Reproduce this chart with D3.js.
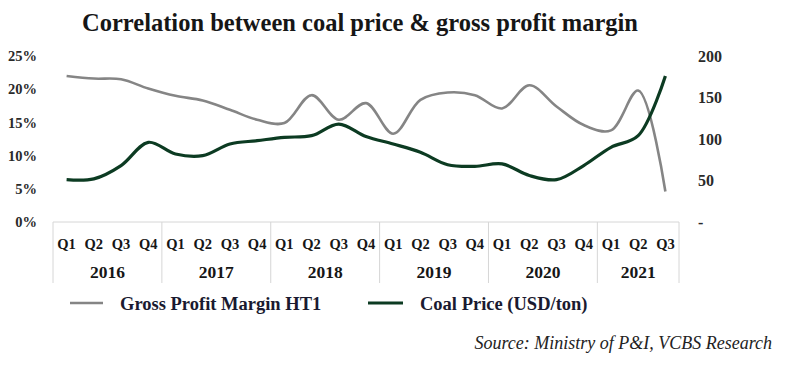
<!DOCTYPE html>
<html><head><meta charset="utf-8">
<script src="https://cdn.jsdelivr.net/npm/d3@7"></script>
<style>
body{margin:0;background:#fff;}
svg{display:block;font-family:"Liberation Serif","Times New Roman",serif;}
</style></head>
<body><svg id="c" width="800" height="368"></svg>
<script>
const years = ["2016","2017","2018","2019","2020","2021"];
const quarters = ["Q1","Q2","Q3","Q4","Q1","Q2","Q3","Q4","Q1","Q2","Q3","Q4","Q1","Q2","Q3","Q4","Q1","Q2","Q3","Q4","Q1","Q2","Q3"];
const yearOfPoint = [0,0,0,0,1,1,1,1,2,2,2,2,3,3,3,3,4,4,4,4,5,5,5];
const grossMargin = [22.0,21.6,21.5,20.1,19.0,18.3,16.9,15.4,14.9,19.1,15.4,17.9,13.3,18.4,19.5,19.1,17.1,20.6,17.4,14.6,13.8,19.8,4.6];
const coalPrice = [51,52,68,96,82,80,94,98,102,104,118,103,94,84,69,67,70,56,51,68,90,104,176];
const leftTicks = [0,5,10,15,20,25];
const rightTicks = [0,50,100,150,200];
const title = "Correlation between coal price & gross profit margin";
const seriesNames = ["Gross Profit Margin HT1","Coal Price (USD/ton)"];
const source = "Source: Ministry of P&I, VCBS Research";

const svg = d3.select("#c");
const ink = "#161616";
const grayC = "#858585", greenC = "#0c3b22";

const x = d3.scaleBand().domain(d3.range(quarters.length)).range([53,679]);
const cx = i => x(i) + x.bandwidth()/2;
const yL = d3.scaleLinear().domain([0,25]).range([222,56]);
const yR = d3.scaleLinear().domain([0,200]).range([222,56]);

// title
svg.append("text").attr("x",360).attr("y",31).attr("text-anchor","middle")
  .attr("font-weight","bold").attr("font-size",24.5).attr("fill",ink).text(title);

// left axis
const gl = svg.append("g").attr("transform","translate(40,0)")
  .call(d3.axisLeft(yL).tickValues(leftTicks).tickFormat(d=>d+"%").tickSize(0).tickPadding(3));
gl.select(".domain").remove();
gl.selectAll("text").attr("font-family","Liberation Serif").attr("font-size",14.5).attr("font-weight","bold").attr("fill","#2a2a2a");

// right axis
const gr = svg.append("g").attr("transform","translate(695,0)")
  .call(d3.axisRight(yR).tickValues(rightTicks).tickFormat(d=>d===0?"-":d).tickSize(0).tickPadding(3));
gr.select(".domain").remove();
gr.selectAll("text").attr("font-family","Liberation Serif").attr("font-size",16).attr("font-weight","bold").attr("fill","#2a2a2a");

// category table lines
const lineC = "#d6d6d6";
svg.append("line").attr("x1",x(0)).attr("x2",x(quarters.length-1)+x.bandwidth()).attr("y1",222).attr("y2",222)
  .attr("stroke",lineC).attr("stroke-width",1);
const bounds = [];
yearOfPoint.forEach((y,i)=>{ if(i===0||yearOfPoint[i-1]!==y) bounds.push(x(i)); });
bounds.push(x(quarters.length-1)+x.bandwidth());
svg.selectAll("line.yb").data(bounds).join("line").attr("class","yb")
  .attr("x1",d=>d).attr("x2",d=>d).attr("y1",222).attr("y2",283).attr("stroke",lineC).attr("stroke-width",1);

svg.selectAll("text.q").data(quarters).join("text").attr("class","q")
  .attr("x",(d,i)=>cx(i)).attr("y",249).attr("text-anchor","middle")
  .attr("font-size",14.5).attr("font-weight","bold").attr("fill",ink).text(d=>d);
svg.selectAll("text.yr").data(years).join("text").attr("class","yr")
  .attr("x",(d,k)=>(bounds[k]+bounds[k+1])/2).attr("y",278).attr("text-anchor","middle")
  .attr("font-size",17.5).attr("font-weight","bold").attr("fill",ink).text(d=>d);

// lines
const curve = d3.curveCatmullRom.alpha(0.5);
const lineG = d3.line().x((d,i)=>cx(i)).y(d=>yL(d)).curve(curve);
const lineR = d3.line().x((d,i)=>cx(i)).y(d=>yR(d)).curve(curve);
svg.append("path").datum(grossMargin).attr("d",lineG).attr("fill","none").attr("stroke",grayC).attr("stroke-width",2.6);
svg.append("path").datum(coalPrice).attr("d",lineR).attr("fill","none").attr("stroke",greenC).attr("stroke-width",3.2);

// legend
const leg = [{c:grayC,x1:70,x2:103,tx:120,w:2.6},{c:greenC,x1:368,x2:403,tx:420,w:3.2}];
leg.forEach((l,k)=>{
  svg.append("line").attr("x1",l.x1).attr("x2",l.x2).attr("y1",303).attr("y2",303).attr("stroke",l.c).attr("stroke-width",l.w);
  svg.append("text").attr("x",l.tx).attr("y",310).attr("font-size",18.5).attr("font-weight","bold").attr("fill","#1a1a30").text(seriesNames[k]);
});

// source
svg.append("text").attr("x",772).attr("y",349).attr("text-anchor","end").attr("font-style","italic")
  .attr("font-size",18).attr("fill","#222").text(source);
</script></body></html>
